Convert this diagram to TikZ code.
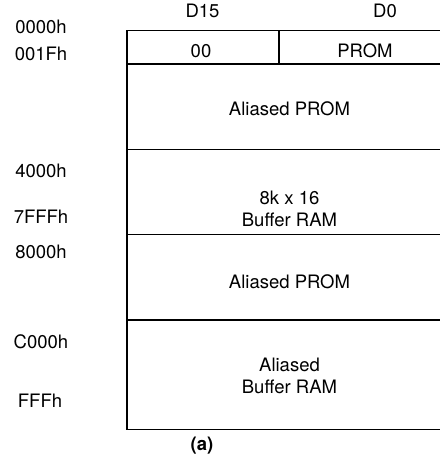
\documentclass[tikz,border=0pt]{standalone}
\usepackage{fontspec}
\setmainfont{TeX Gyre Heros}
\usetikzlibrary{positioning}

\begin{document}
\begin{tikzpicture}[x=10pt, y=-10pt, line width=1.2pt, font=\fontsize{18.5}{22.5}\selectfont,
	addr/.style={anchor=base}, cell/.style={anchor=base, align=center}]
	\useasboundingbox (0,0) rectangle (43.9,46);
	% frame, open on the right
	\draw (45,3.05) -- (12.7,3.05) -- (12.7,42.95) -- (45,42.95);
	\draw (12.7,6.4) -- (45,6.4);
	\draw (12.7,14.95) -- (45,14.95);
	\draw (12.7,23.45) -- (45,23.45);
	\draw (12.7,32.0) -- (45,32.0);
	\draw (27.9,3.05) -- (27.9,6.4);
	% bit columns
	\node[addr] (d15) at (20.25,1.8) {D15};
	\node[addr] (d0) at (38.5,1.8) {D0};
	% addresses
	\node[addr] (a0000) at (4.1,3.4) {0000h};
	\node[addr] (a001f) at (4.1,6.05) {001Fh};
	\node[addr] (a4000) at (4.1,17.7) {4000h};
	\node[addr] (a7fff) at (4.1,22.3) {7FFFh};
	\node[addr] (a8000) at (4.1,25.8) {8000h};
	\node[addr] (ac000) at (4.1,34.8) {C000h};
	\node[addr] (afff) at (4.0,40.7) {FFFh};
	% regions
	\node[cell] (zero) at (20.1,5.8) {00};
	\node[cell] (prom) at (36.5,5.8) {PROM};
	\node[cell] (alias1) at (28.95,11.5) {Aliased PROM};
	\node[align=center] (ram) at (28.95,20.9) {8k x 16\\Buffer RAM};
	\node[cell] (alias2) at (28.95,28.8) {Aliased PROM};
	\node[align=center] (alias3) at (28.95,37.6) {Aliased\\Buffer RAM};
	\node[addr, font=\fontsize{18.5}{22.5}\selectfont\bfseries] (cap) at (20.2,45.0) {(a)};
\end{tikzpicture}
\end{document}
